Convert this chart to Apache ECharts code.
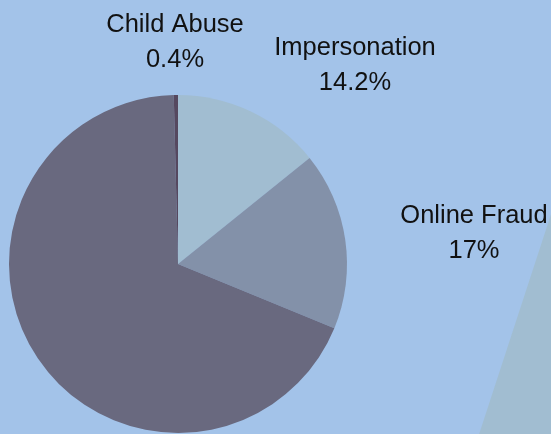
<!DOCTYPE html>
<html>
<head>
<meta charset="utf-8">
<script src="https://cdn.jsdelivr.net/npm/echarts@6/dist/echarts.min.js"></script>
<style>
  html, body { margin: 0; padding: 0; background: #a3c3e9; }
  #chart { width: 551px; height: 434px; }
</style>
</head>
<body>
<div id="chart"></div>
<script>
// slices, clockwise from 12 o'clock
const categories = ['Impersonation', 'Online Fraud', 'Other', 'Child Abuse']
const shares = [14.2, 17, 68.4, 0.4]
const sliceColors = ['#a1bdd1', '#8391a9', '#69697f', '#55485f']
const showLabel = [true, true, false, true]

// light wedge entering from the right edge
const wedgeValues = [1, 9]

// where each label block sits (centre of the two lines)
const labelSpots = [[355, 65], [474, 233], null, [175, 42]]

const chart = echarts.init(document.getElementById('chart'))

const option = {
  backgroundColor: '#a3c3e9',
  animation: false,
  series: [
    {
      // background wedge
      type: 'pie',
      silent: true,
      center: [621, 0],
      radius: 620,
      startAngle: 251.9,
      clockwise: false,
      label: { show: false },
      labelLine: { show: false },
      data: wedgeValues.map((v, i) => ({
        value: v,
        itemStyle: { color: i === 0 ? '#a1bdd1' : 'rgba(0,0,0,0)' }
      }))
    },
    {
      type: 'pie',
      silent: true,
      center: [178, 264],
      radius: 169,
      startAngle: 90,
      clockwise: true,
      avoidLabelOverlap: false,
      itemStyle: { borderWidth: 0 },
      label: {
        show: true,
        position: 'outside',
        formatter: '{b}\n{c}%',
        fontFamily: 'Liberation Sans, Arial, sans-serif',
        fontSize: 25.5,
        lineHeight: 35,
        color: '#111',
        align: 'center'
      },
      labelLine: { show: false },
      labelLayout: (params) => {
        const spot = labelSpots[params.dataIndex]
        if (!spot) return {}
        return { x: spot[0], y: spot[1], align: 'center', verticalAlign: 'middle' }
      },
      data: categories.map((name, i) => ({
        name: name,
        value: shares[i],
        itemStyle: { color: sliceColors[i] },
        label: { show: showLabel[i] }
      }))
    }
  ]
}

chart.setOption(option)
</script>
</body>
</html>
